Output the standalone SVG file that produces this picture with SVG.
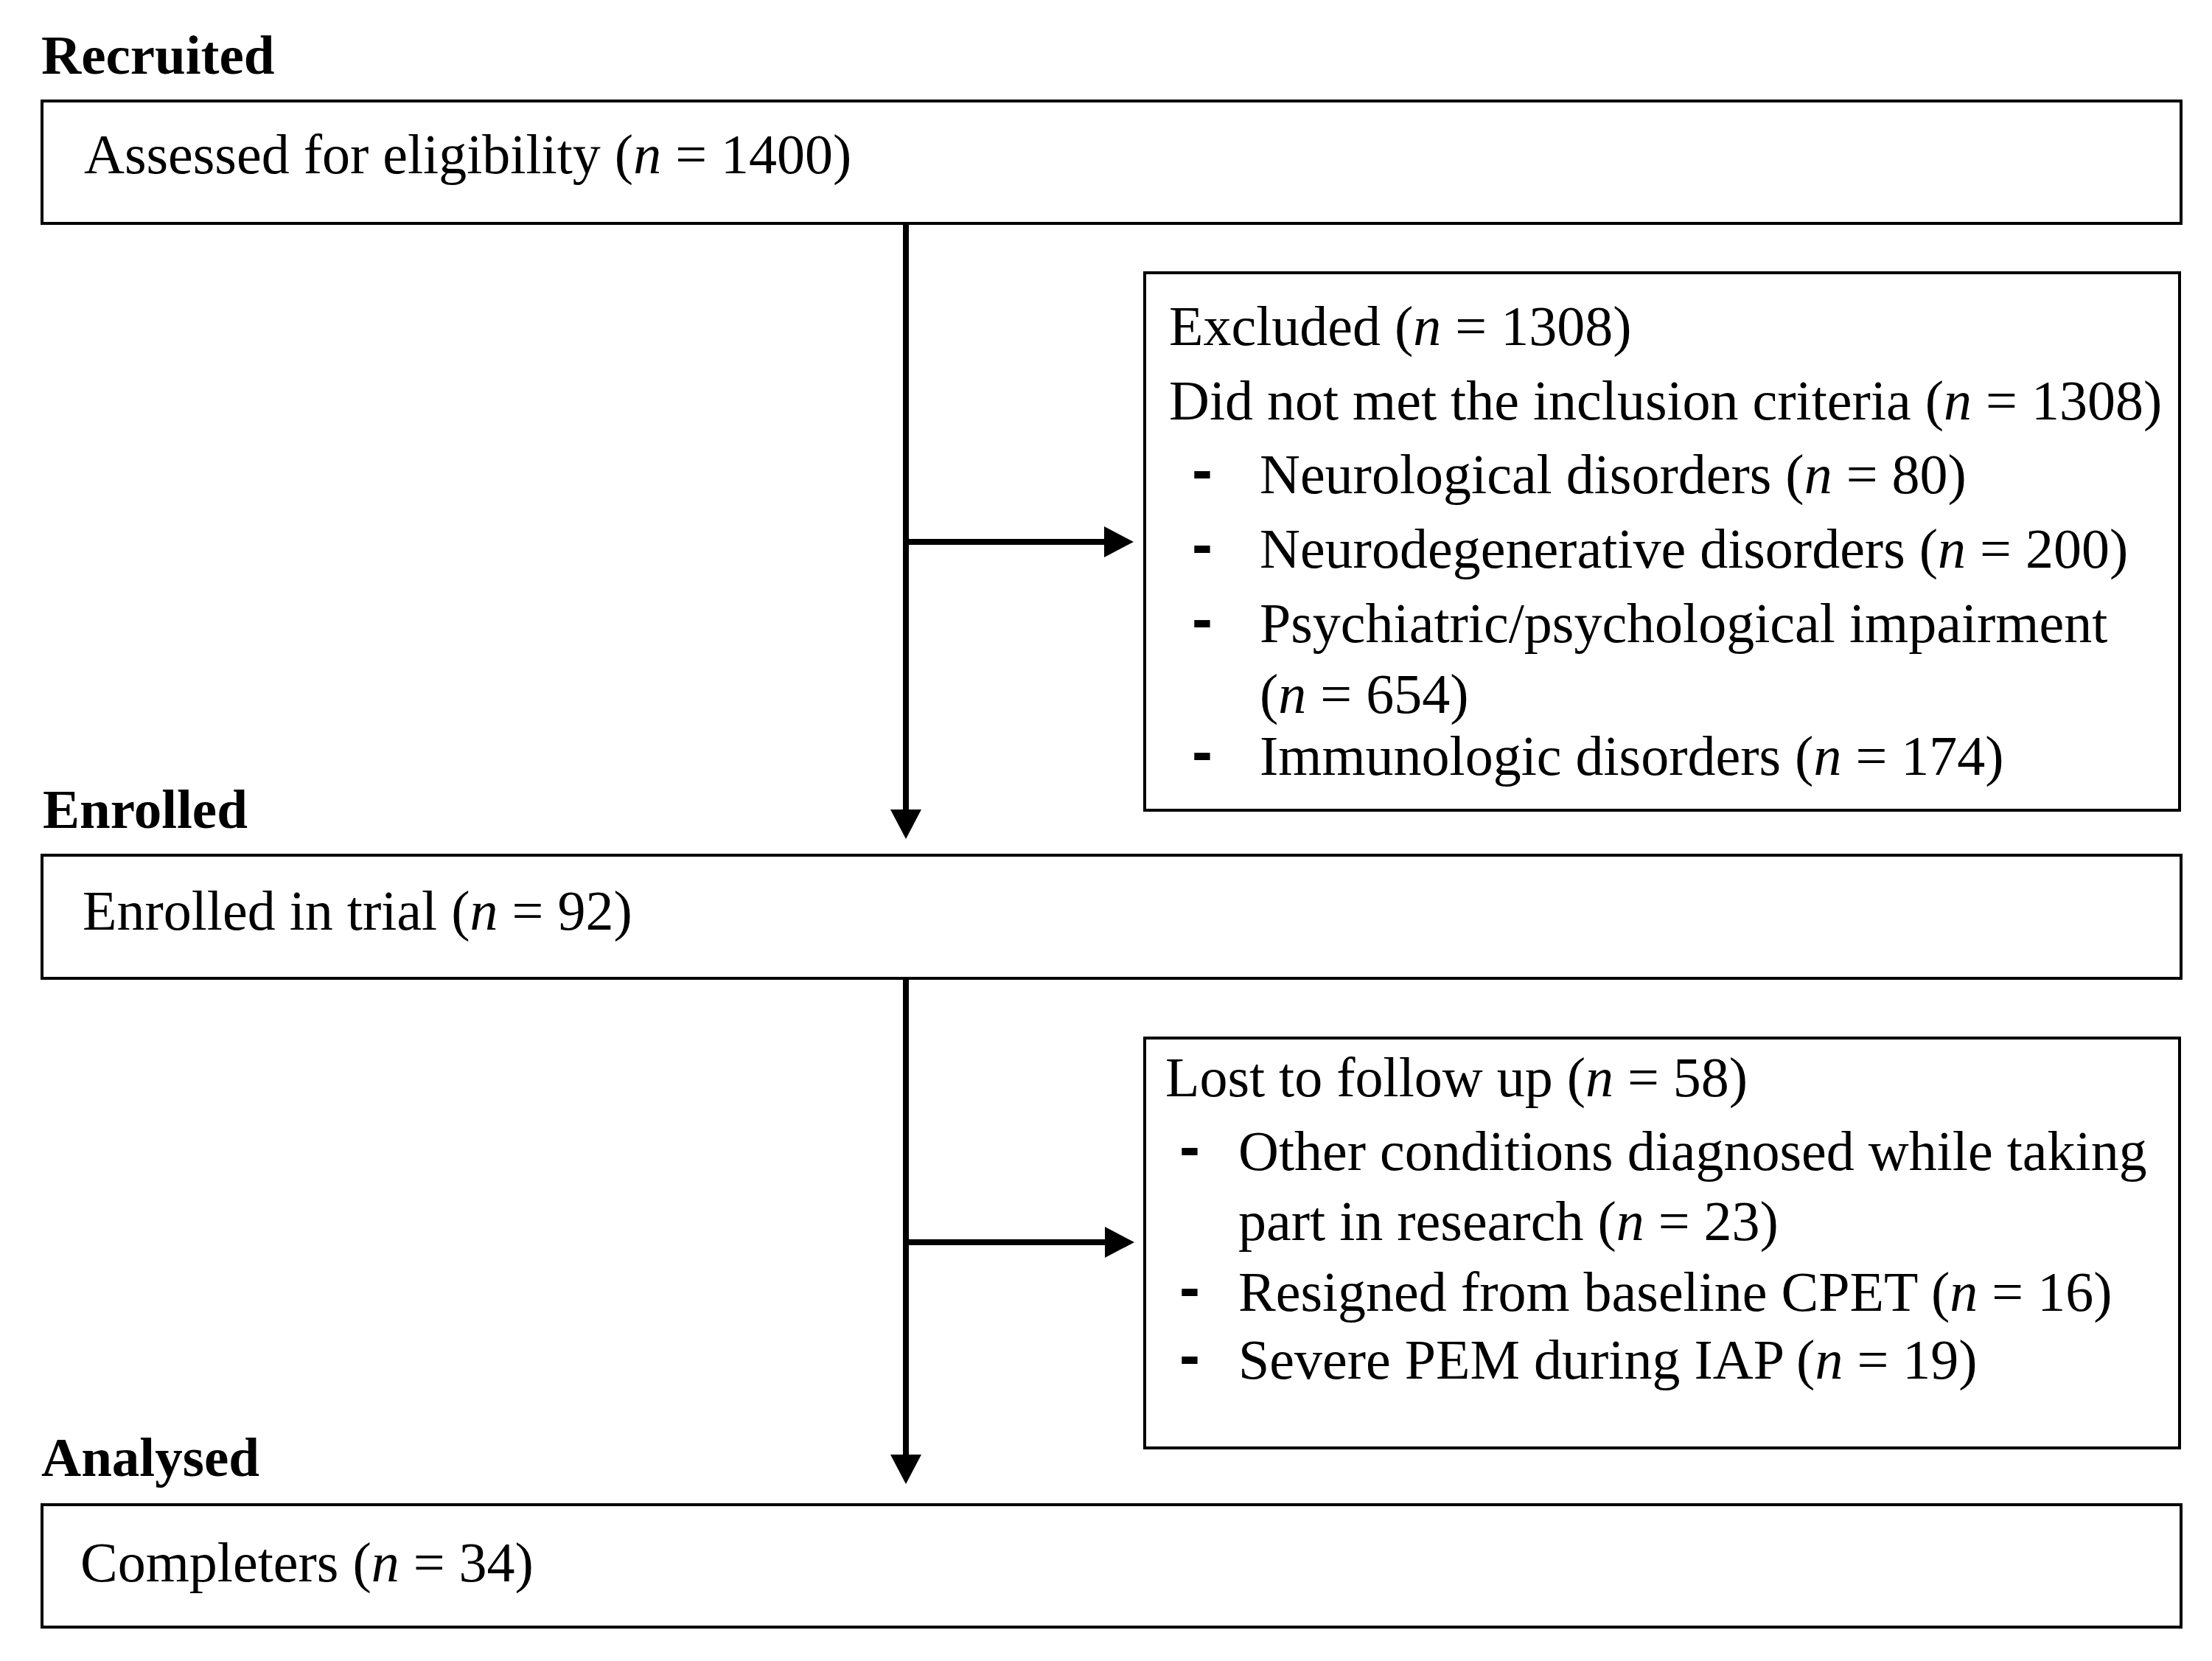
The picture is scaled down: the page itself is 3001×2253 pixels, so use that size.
<svg xmlns="http://www.w3.org/2000/svg" width="3001" height="2253" viewBox="0 0 3001 2253">
<style>
.box{fill:#ffffff;stroke:#000000;stroke-width:4}
.t{font-family:"Liberation Serif","Times New Roman",serif;font-size:76px;fill:#000000}
.h{font-family:"Liberation Serif","Times New Roman",serif;font-size:75px;font-weight:bold;fill:#000000}
.d{font-family:"Liberation Sans",Arial,sans-serif;font-size:84px;font-weight:bold;fill:#000000}
.i{font-style:italic}
.c{fill:none;stroke:#000000;stroke-width:8}
</style>
<defs>
<marker id="arr" viewBox="0 0 40 42" refX="20" refY="21" markerWidth="40" markerHeight="42" markerUnits="userSpaceOnUse" orient="auto">
<path d="M0,0 L40,21 L0,42 z" fill="#000000"/>
</marker>
</defs>
<rect width="3001" height="2253" fill="#ffffff"/>
<g id="labels">
<text class="h" x="56" y="100">Recruited</text>
<text class="h" x="58" y="1123">Enrolled</text>
<text class="h" x="56" y="2002">Analysed</text>
</g>
<g id="connectors">
<line class="c" x1="1229" y1="303" x2="1229" y2="1118" marker-end="url(#arr)"/>
<line class="c" x1="1225" y1="735" x2="1518" y2="735" marker-end="url(#arr)"/>
<line class="c" x1="1229" y1="1328" x2="1229" y2="1993" marker-end="url(#arr)"/>
<line class="c" x1="1225" y1="1685" x2="1519" y2="1685" marker-end="url(#arr)"/>
</g>
<g id="assessed">
<rect class="box" x="57" y="137" width="2902" height="166"/>
<text class="t" x="114" y="235">Assessed for eligibility (<tspan class="i">n</tspan> = 1400)</text>
</g>
<g id="excluded">
<rect class="box" x="1553" y="370" width="1404" height="729"/>
<text class="t" x="1586" y="468">Excluded (<tspan class="i">n</tspan> = 1308)</text>
<text class="t" x="1586" y="569">Did not met the inclusion criteria (<tspan class="i">n</tspan> = 1308)</text>
<text class="d" x="1617" y="666">-</text>
<text class="t" x="1709" y="669">Neurological disorders (<tspan class="i">n</tspan> = 80)</text>
<text class="d" x="1617" y="767">-</text>
<text class="t" x="1709" y="770">Neurodegenerative disorders (<tspan class="i">n</tspan> = 200)</text>
<text class="d" x="1617" y="868">-</text>
<text class="t" x="1709" y="871">Psychiatric/psychological impairment</text>
<text class="t" x="1709" y="967">(<tspan class="i">n</tspan> = 654)</text>
<text class="d" x="1617" y="1048">-</text>
<text class="t" x="1709" y="1051">Immunologic disorders (<tspan class="i">n</tspan> = 174)</text>
</g>
<g id="enrolled">
<rect class="box" x="57" y="1160" width="2902" height="167"/>
<text class="t" x="112" y="1261">Enrolled in trial (<tspan class="i">n</tspan> = 92)</text>
</g>
<g id="lost">
<rect class="box" x="1553" y="1408" width="1404" height="556"/>
<text class="t" x="1581" y="1487">Lost to follow up (<tspan class="i">n</tspan> = 58)</text>
<text class="d" x="1600" y="1584">-</text>
<text class="t" x="1680" y="1587">Other conditions diagnosed while taking</text>
<text class="t" x="1680" y="1682">part in research (<tspan class="i">n</tspan> = 23)</text>
<text class="d" x="1600" y="1775">-</text>
<text class="t" x="1680" y="1778">Resigned from baseline CPET (<tspan class="i">n</tspan> = 16)</text>
<text class="d" x="1600" y="1867">-</text>
<text class="t" x="1680" y="1870">Severe PEM during IAP (<tspan class="i">n</tspan> = 19)</text>
</g>
<g id="completers">
<rect class="box" x="57" y="2041" width="2902" height="166"/>
<text class="t" x="109" y="2145">Completers (<tspan class="i">n</tspan> = 34)</text>
</g>
</svg>
